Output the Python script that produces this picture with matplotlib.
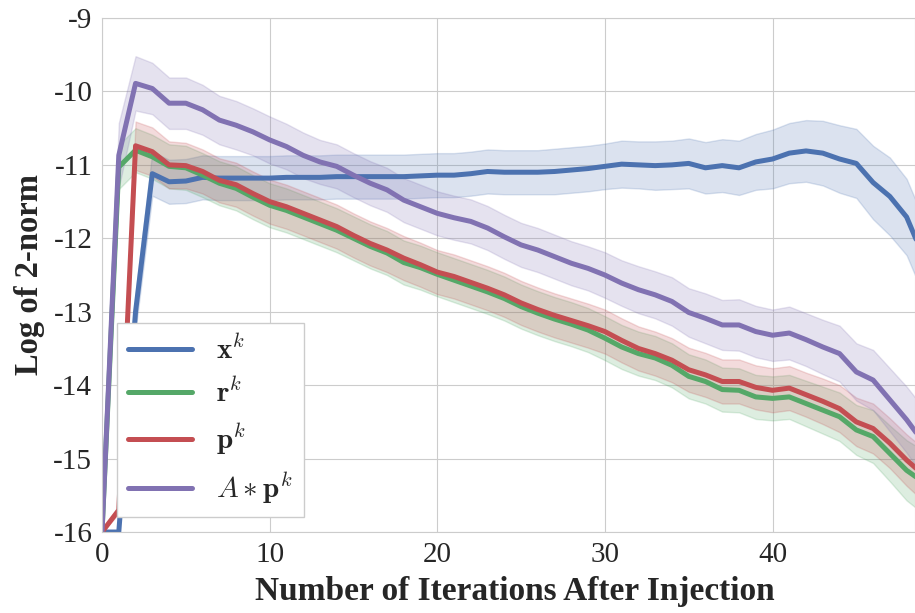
import numpy as np
import matplotlib
matplotlib.use('Agg')
from matplotlib import pyplot as plt
import seaborn as sns

iterations = np.arange(50)

x_norm = [-16.0, -16.0, -13.0, -11.12, -11.23, -11.22, -11.17, -11.18, -11.18, -11.18,
          -11.18, -11.17, -11.17, -11.17, -11.16, -11.16, -11.16, -11.16, -11.16, -11.15,
          -11.14, -11.14, -11.12, -11.09, -11.10, -11.10, -11.10, -11.09, -11.07, -11.05,
          -11.02, -10.99, -11.00, -11.01, -11.00, -10.98, -11.04, -11.01, -11.04, -10.96,
          -10.92, -10.84, -10.81, -10.84, -10.92, -10.98, -11.24, -11.43, -11.71, -12.25]
r_norm = [-16.0, -11.03, -10.80, -10.89, -11.02, -11.04, -11.14, -11.25, -11.32, -11.44,
          -11.55, -11.62, -11.71, -11.80, -11.89, -12.00, -12.11, -12.20, -12.33, -12.40,
          -12.49, -12.57, -12.65, -12.73, -12.82, -12.93, -13.02, -13.10, -13.17, -13.25,
          -13.36, -13.48, -13.57, -13.63, -13.73, -13.88, -13.95, -14.06, -14.07, -14.16,
          -14.18, -14.16, -14.25, -14.34, -14.43, -14.61, -14.70, -14.93, -15.16, -15.32]
p_norm = [-16.0, -15.7, -10.74, -10.82, -11.00, -11.01, -11.09, -11.21, -11.27, -11.39,
          -11.50, -11.57, -11.66, -11.75, -11.84, -11.96, -12.07, -12.16, -12.27, -12.36,
          -12.46, -12.52, -12.60, -12.68, -12.77, -12.88, -12.97, -13.05, -13.12, -13.19,
          -13.27, -13.39, -13.50, -13.57, -13.66, -13.79, -13.86, -13.95, -13.95, -14.03,
          -14.07, -14.04, -14.13, -14.22, -14.32, -14.50, -14.59, -14.79, -15.02, -15.22]
ap_norm = [-16.0, -10.87, -9.89, -9.96, -10.16, -10.16, -10.25, -10.39, -10.46, -10.55,
           -10.66, -10.75, -10.87, -10.96, -11.02, -11.14, -11.25, -11.34, -11.48, -11.57,
           -11.66, -11.72, -11.77, -11.86, -11.98, -12.09, -12.16, -12.25, -12.34, -12.41,
           -12.50, -12.61, -12.70, -12.77, -12.86, -13.01, -13.09, -13.18, -13.18, -13.27,
           -13.32, -13.29, -13.38, -13.48, -13.57, -13.82, -13.93, -14.20, -14.47, -14.78]

# spread of the shaded bands
x_sd = [0.0, 0.0, 0.25, 0.3, 0.3, 0.3, 0.3, 0.3, 0.3, 0.3,
        0.3, 0.3, 0.3, 0.3, 0.3, 0.3, 0.3, 0.3, 0.3, 0.3,
        0.3, 0.3, 0.3, 0.3, 0.3, 0.3, 0.3, 0.31, 0.31, 0.31,
        0.31, 0.32, 0.32, 0.33, 0.33, 0.34, 0.35, 0.36, 0.37, 0.38,
        0.4, 0.41, 0.42, 0.44, 0.46, 0.47, 0.5, 0.53, 0.52, 0.52]
r_sd = [0.0, 0.3, 0.3, 0.3, 0.3, 0.3, 0.3, 0.3, 0.3, 0.3,
        0.3, 0.3, 0.3, 0.3, 0.3, 0.3, 0.3, 0.3, 0.3, 0.3,
        0.3, 0.3, 0.3, 0.3, 0.3, 0.3, 0.3, 0.3, 0.3, 0.3,
        0.3, 0.3, 0.3, 0.3, 0.3, 0.3, 0.3, 0.3, 0.3, 0.3,
        0.3, 0.3, 0.31, 0.32, 0.33, 0.34, 0.36, 0.38, 0.41, 0.43]
p_sd = [0.0, 0.05, 0.33, 0.33, 0.32, 0.31, 0.3, 0.3, 0.3, 0.3,
        0.3, 0.3, 0.3, 0.3, 0.3, 0.3, 0.3, 0.3, 0.3, 0.3,
        0.3, 0.3, 0.3, 0.3, 0.3, 0.3, 0.3, 0.3, 0.3, 0.3,
        0.3, 0.3, 0.3, 0.3, 0.3, 0.3, 0.3, 0.3, 0.3, 0.3,
        0.3, 0.3, 0.3, 0.31, 0.32, 0.33, 0.34, 0.34, 0.35, 0.36]
ap_sd = [0.0, 0.44, 0.37, 0.35, 0.35, 0.35, 0.34, 0.33, 0.33, 0.32,
         0.32, 0.31, 0.31, 0.3, 0.3, 0.3, 0.3, 0.3, 0.3, 0.3,
         0.3, 0.3, 0.3, 0.3, 0.3, 0.3, 0.3, 0.3, 0.3, 0.3,
         0.31, 0.31, 0.32, 0.32, 0.33, 0.33, 0.34, 0.34, 0.35, 0.35,
         0.35, 0.36, 0.36, 0.37, 0.38, 0.39, 0.41, 0.43, 0.45, 0.47]

labels = [r'$\mathbf{x}^k$', r'$\mathbf{r}^k$', r'$\mathbf{p}^k$', r'$A*\mathbf{p}^k$']
colors = ['#4C72B0', '#55A868', '#C44E52', '#8172B2']


def main():
    sns.set_style('whitegrid')
    plt.rcParams['font.family'] = ['Liberation Serif', 'DejaVu Serif']
    plt.rcParams['mathtext.fontset'] = 'cm'
    plt.rcParams['axes.unicode_minus'] = False

    fig, ax = plt.subplots(figsize=(9.15, 6.13), dpi=100)
    fig.subplots_adjust(left=0.1115, right=1.0, top=0.9706, bottom=0.1321)

    series = [x_norm, r_norm, p_norm, ap_norm]
    spreads = [x_sd, r_sd, p_sd, ap_sd]
    for vals, sd, color in zip(series, spreads, colors):
        vals = np.array(vals)
        sd = np.array(sd)
        ax.fill_between(iterations, vals - sd, vals + sd, color=color, alpha=0.2, lw=1)
    for vals, color, label in zip(series, colors, labels):
        ax.plot(iterations, vals, color=color, lw=3.6, label=label)

    ax.set_xlim(0, 48.5)
    ax.set_ylim(-16, -9)
    ax.set_xticks([0, 10, 20, 30, 40])
    ax.set_yticks(range(-16, -8))
    ax.tick_params(labelsize=21, pad=7, length=0)
    ax.set_xlabel('Number of Iterations After Injection', fontsize=24, fontweight='bold', labelpad=1)
    ax.set_ylabel('Log of 2-norm', fontsize=23.5, fontweight='bold', labelpad=6)
    ax.xaxis.set_label_coords(0.508, -0.085)

    leg = ax.legend(loc='lower left', fontsize=21, frameon=True, fancybox=False,
                    framealpha=1, handlelength=2.2, labelspacing=0.45)
    leg.get_frame().set_edgecolor('.8')
    for line in leg.get_lines():
        line.set_linewidth(3.6)

    fig.savefig('out.png', dpi=100)


if __name__ == '__main__':
    main()
